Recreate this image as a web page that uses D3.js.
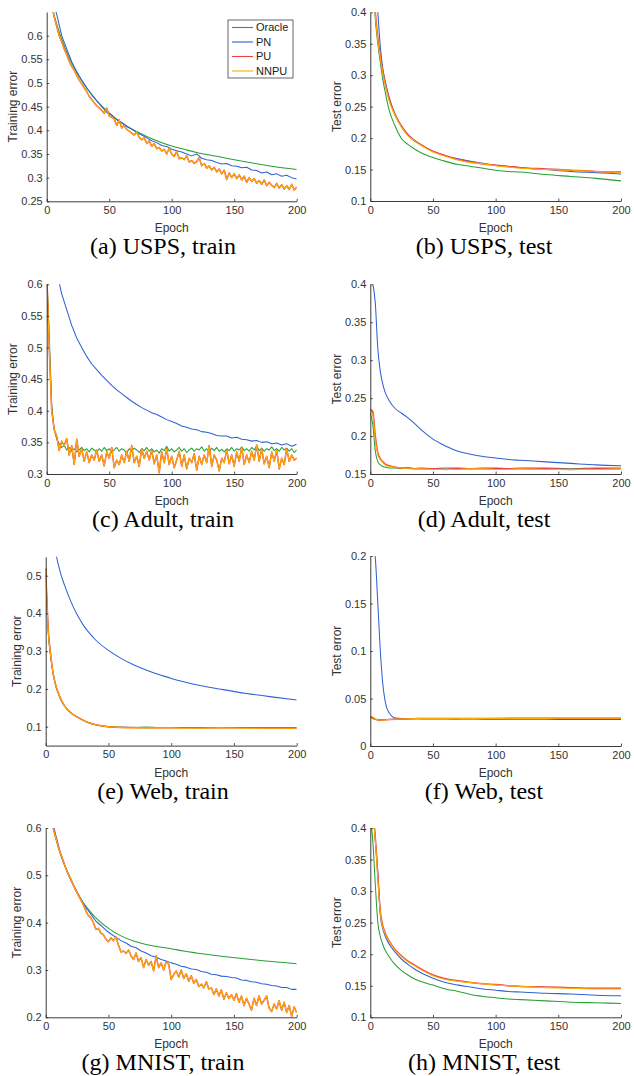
<!DOCTYPE html>
<html lang="en">
<head>
<meta charset="UTF-8">
<title>Training and test error over epochs</title>
<script src="https://d3js.org/d3.v7.min.js"></script>
<style>
  body { margin: 0; background: #fff; }
</style>
</head>
<body>
<svg id="chart"></svg>
<script>
// ---- data ----
var methods = ["Oracle", "PN", "PU", "NNPU"];
var xTicks = [0, 50, 100, 150, 200];

// sparse epoch grid used by the smooth curves
var sparseEpochs = [0, 2, 4, 6, 8, 10, 12, 15, 20, 25, 30, 35, 40, 50, 60, 70, 80, 90, 100, 110, 120, 140, 160, 180, 200];

// (a) USPS, train
var uspsTrainTicks = [0.25, 0.3, 0.35, 0.4, 0.45, 0.5, 0.55, 0.6];
var uspsTrainOracle = [null, null, 0.665, 0.642, 0.625, 0.608, 0.593, 0.572, 0.542, 0.518, 0.497, 0.479, 0.463, 0.437, 0.416, 0.4, 0.387, 0.376, 0.367, 0.36, 0.353, 0.343, 0.333, 0.324, 0.317];
// every 4 epochs from 4
var uspsTrainPN = [0.68, 0.645, 0.60, 0.572, 0.545, 0.524, 0.506, 0.49, 0.475, 0.462,
  0.45, 0.438, 0.432, 0.422, 0.416, 0.408, 0.402, 0.396, 0.39, 0.384,
  0.378, 0.374, 0.368, 0.366, 0.36, 0.357, 0.354, 0.35, 0.346, 0.35,
  0.341, 0.338, 0.336, 0.332, 0.329, 0.33, 0.325, 0.324, 0.321, 0.322,
  0.316, 0.315, 0.31, 0.312, 0.306, 0.308, 0.303, 0.305, 0.3, 0.297];
// every 2 epochs from 4
var uspsTrainNNPU = [0.665, 0.64, 0.62, 0.60, 0.587, 0.572, 0.56, 0.546, 0.535, 0.527,
  0.516, 0.506, 0.498, 0.49, 0.482, 0.472, 0.465, 0.458, 0.452, 0.447,
  0.442, 0.436, 0.447, 0.43, 0.428, 0.424, 0.41, 0.422, 0.405, 0.41,
  0.402, 0.398, 0.394, 0.39, 0.397, 0.385, 0.38, 0.384, 0.372, 0.378,
  0.366, 0.372, 0.361, 0.364, 0.356, 0.36, 0.35, 0.362, 0.35, 0.345,
  0.356, 0.34, 0.342, 0.338, 0.346, 0.333, 0.336, 0.33, 0.334, 0.342,
  0.325, 0.33, 0.32, 0.325, 0.316, 0.322, 0.312, 0.318, 0.308, 0.316,
  0.296, 0.31, 0.3, 0.308, 0.298, 0.306, 0.295, 0.303, 0.29, 0.3,
  0.292, 0.298, 0.288, 0.294, 0.286, 0.295, 0.283, 0.29, 0.284, 0.279,
  0.288, 0.278, 0.285, 0.276, 0.283, 0.275, 0.286, 0.274, 0.28];
var uspsTrainPU = uspsTrainNNPU; // the two traces coincide in the figure

// (b) USPS, test
var uspsTestTicks = [0.1, 0.15, 0.2, 0.25, 0.3, 0.35, 0.4];
var uspsTestOracle = [null, 0.46, 0.39, 0.35, 0.32, 0.293, 0.272, 0.245, 0.218, 0.199, 0.19, 0.183, 0.177, 0.169, 0.163, 0.158, 0.155, 0.152, 0.149, 0.147, 0.146, 0.142, 0.139, 0.136, 0.132];
var uspsTestPN = [null, null, 0.46, 0.4, 0.345, 0.31, 0.29, 0.265, 0.237, 0.219, 0.206, 0.197, 0.19, 0.179, 0.172, 0.167, 0.163, 0.16, 0.157, 0.155, 0.153, 0.15, 0.147, 0.145, 0.143];
var uspsTestPU = [null, 0.46, 0.4, 0.36, 0.33, 0.306, 0.286, 0.262, 0.236, 0.218, 0.205, 0.196, 0.19, 0.179, 0.172, 0.166, 0.162, 0.159, 0.157, 0.155, 0.153, 0.151, 0.149, 0.147, 0.146];
var uspsTestNNPU = [null, 0.45, 0.395, 0.355, 0.327, 0.303, 0.284, 0.26, 0.235, 0.217, 0.204, 0.196, 0.189, 0.178, 0.171, 0.165, 0.161, 0.159, 0.156, 0.154, 0.152, 0.15, 0.149, 0.147, 0.145];

// (c) Adult, train
var adultTrainTicks = [0.3, 0.35, 0.4, 0.45, 0.5, 0.55, 0.6];
// every 2 epochs from 0
var adultTrainOracle = [0.62, 0.52, 0.41, 0.37, 0.355, 0.348, 0.342, 0.345, 0.338, 0.342,
  0.336, 0.34, 0.335, 0.338, 0.342, 0.337, 0.34, 0.335, 0.341, 0.338,
  0.335, 0.34, 0.336, 0.342, 0.337, 0.34, 0.334, 0.338, 0.342, 0.336,
  0.34, 0.338, 0.333, 0.34, 0.336, 0.341, 0.338, 0.334, 0.34, 0.337,
  0.342, 0.336, 0.34, 0.335, 0.338, 0.333, 0.34, 0.337, 0.344, 0.336,
  0.34, 0.335, 0.338, 0.342, 0.336, 0.34, 0.334, 0.338, 0.341, 0.336,
  0.34, 0.338, 0.343, 0.336, 0.34, 0.335, 0.341, 0.337, 0.342, 0.336,
  0.339, 0.335, 0.34, 0.337, 0.342, 0.336, 0.34, 0.338, 0.343, 0.337,
  0.34, 0.336, 0.342, 0.338, 0.344, 0.337, 0.341, 0.336, 0.34, 0.338,
  0.343, 0.337, 0.34, 0.336, 0.342, 0.338, 0.341, 0.336, 0.34, 0.334, 0.338];
// every 4 epochs from 8
var adultTrainPN = [0.62, 0.585, 0.56, 0.535, 0.515, 0.5, 0.486, 0.474, 0.465, 0.456,
  0.448, 0.44, 0.433, 0.427, 0.421, 0.415, 0.41, 0.405, 0.401, 0.397,
  0.394, 0.39, 0.386, 0.383, 0.38, 0.376, 0.374, 0.371, 0.37, 0.367,
  0.366, 0.364, 0.361, 0.36, 0.36, 0.357, 0.358, 0.355, 0.354, 0.352,
  0.353, 0.35, 0.351, 0.348, 0.349, 0.346, 0.348, 0.344, 0.347];
// every 2 epochs from 0
var adultTrainNNPU = [0.62, 0.5, 0.4, 0.37, 0.36, 0.337, 0.352, 0.345, 0.356, 0.33,
  0.345, 0.315, 0.355, 0.328, 0.34, 0.32, 0.335, 0.318, 0.33, 0.322,
  0.338, 0.32, 0.33, 0.313, 0.335, 0.325, 0.342, 0.31, 0.322, 0.315,
  0.33, 0.318, 0.336, 0.32, 0.345, 0.318, 0.328, 0.312, 0.34, 0.325,
  0.336, 0.322, 0.338, 0.316, 0.33, 0.302, 0.335, 0.318, 0.34, 0.315,
  0.328, 0.31, 0.322, 0.336, 0.312, 0.33, 0.308, 0.325, 0.318, 0.332,
  0.306, 0.328, 0.315, 0.33, 0.318, 0.345, 0.312, 0.33, 0.322, 0.305,
  0.325, 0.318, 0.338, 0.316, 0.33, 0.312, 0.335, 0.32, 0.342, 0.315,
  0.33, 0.318, 0.336, 0.322, 0.346, 0.32, 0.34, 0.316, 0.328, 0.31,
  0.335, 0.32, 0.338, 0.308, 0.325, 0.315, 0.34, 0.32, 0.33, 0.322, 0.325];
var adultTrainPU = adultTrainNNPU;

// (d) Adult, test
var adultTestTicks = [0.15, 0.2, 0.25, 0.3, 0.35, 0.4];
var adultTestOracle = [0.23, 0.215, 0.18, 0.166, 0.162, 0.16, 0.159, 0.158, 0.158, 0.157, 0.158, 0.157, 0.158, 0.157, 0.158, 0.158, 0.157, 0.158, 0.158, 0.157, 0.158, 0.158, 0.157, 0.158, 0.158];
var adultTestPN = [null, 0.401, 0.375, 0.315, 0.285, 0.268, 0.257, 0.247, 0.236, 0.23, 0.224, 0.217, 0.209, 0.196, 0.187, 0.18, 0.176, 0.173, 0.171, 0.169, 0.168, 0.166, 0.164, 0.162, 0.161];
var adultTestPU = [0.235, 0.232, 0.2, 0.178, 0.17, 0.166, 0.163, 0.161, 0.159, 0.158, 0.158, 0.157, 0.157, 0.157, 0.156, 0.157, 0.157, 0.157, 0.157, 0.157, 0.157, 0.157, 0.156, 0.157, 0.157];
var adultTestNNPU = [0.233, 0.228, 0.195, 0.176, 0.169, 0.165, 0.162, 0.16, 0.159, 0.158, 0.157, 0.157, 0.157, 0.156, 0.156, 0.156, 0.157, 0.157, 0.156, 0.156, 0.157, 0.156, 0.156, 0.156, 0.157];

// (e) Web, train
var webTrainTicks = [0.1, 0.2, 0.3, 0.4, 0.5];
var webTrainOracle = [0.52, 0.35, 0.285, 0.238, 0.208, 0.188, 0.172, 0.155, 0.137, 0.126, 0.117, 0.11, 0.105, 0.1, 0.099, 0.098, 0.099, 0.098, 0.098, 0.098, 0.097, 0.098, 0.098, 0.098, 0.098];
var webTrainPN = [null, null, null, null, 0.56, 0.53, 0.505, 0.475, 0.432, 0.397, 0.369, 0.347, 0.329, 0.302, 0.281, 0.264, 0.25, 0.238, 0.228, 0.219, 0.211, 0.199, 0.188, 0.179, 0.171];
var webTrainPU = [0.52, 0.36, 0.29, 0.24, 0.21, 0.19, 0.173, 0.155, 0.137, 0.126, 0.117, 0.11, 0.105, 0.1, 0.098, 0.098, 0.097, 0.097, 0.097, 0.097, 0.097, 0.097, 0.097, 0.096, 0.096];
var webTrainNNPU = [0.515, 0.355, 0.288, 0.24, 0.21, 0.19, 0.173, 0.155, 0.137, 0.126, 0.117, 0.11, 0.105, 0.1, 0.098, 0.097, 0.097, 0.097, 0.097, 0.096, 0.096, 0.097, 0.096, 0.096, 0.096];

// (f) Web, test
var webTestTicks = [0, 0.05, 0.1, 0.15, 0.2];
var webTestOracle = [0.03, 0.029, 0.0282, 0.028, 0.0278, 0.0278, 0.0279, 0.028, 0.0282, 0.0284, 0.0285, 0.0286, 0.0287, 0.0288, 0.0288, 0.0288, 0.0289, 0.0289, 0.0289, 0.0289, 0.029, 0.029, 0.029, 0.029, 0.029];
var webTestPN = [null, 0.215, 0.198, 0.15, 0.1, 0.065, 0.046, 0.035, 0.0295, 0.029, 0.029, 0.0289, 0.0288, 0.0287, 0.0286, 0.0285, 0.0284, 0.0283, 0.0282, 0.0282, 0.0281, 0.0281, 0.028, 0.028, 0.028];
var webTestPU = [0.031, 0.0295, 0.028, 0.0274, 0.0272, 0.0273, 0.0275, 0.0278, 0.0282, 0.0285, 0.0287, 0.0288, 0.0289, 0.029, 0.029, 0.029, 0.029, 0.029, 0.029, 0.0291, 0.0291, 0.0291, 0.0291, 0.0291, 0.0292];
var webTestNNPU = [0.031, 0.0305, 0.0285, 0.0276, 0.0273, 0.0273, 0.0275, 0.0278, 0.0282, 0.0285, 0.0287, 0.0288, 0.0289, 0.029, 0.029, 0.029, 0.029, 0.029, 0.0291, 0.0291, 0.0291, 0.0291, 0.0292, 0.0292, 0.0292];

// (g) MNIST, train
var mnistTrainTicks = [0.2, 0.3, 0.4, 0.5, 0.6];
var mnistTrainOracle = [null, null, 0.64, 0.6, 0.58, 0.56, 0.543, 0.522, 0.492, 0.465, 0.442, 0.425, 0.41, 0.388, 0.372, 0.361, 0.354, 0.349, 0.345, 0.34, 0.336, 0.329, 0.323, 0.318, 0.313];
// every 4 epochs from 4
var mnistTrainPN = [0.63, 0.585, 0.545, 0.515, 0.49, 0.468, 0.45, 0.432, 0.418, 0.403,
  0.394, 0.384, 0.376, 0.369, 0.362, 0.357, 0.35, 0.347, 0.34, 0.336,
  0.33, 0.327, 0.322, 0.319, 0.315, 0.312, 0.308, 0.306, 0.302, 0.301,
  0.297, 0.295, 0.291, 0.29, 0.287, 0.286, 0.284, 0.283, 0.279, 0.278,
  0.275, 0.274, 0.271, 0.27, 0.267, 0.266, 0.263, 0.263, 0.259, 0.259];
// every 2 epochs from 4
var mnistTrainNNPU = [0.63, 0.6, 0.58, 0.56, 0.545, 0.53, 0.515, 0.502, 0.492, 0.48,
  0.468, 0.458, 0.448, 0.438, 0.425, 0.415, 0.41, 0.4, 0.386, 0.388,
  0.378, 0.374, 0.365, 0.36, 0.368, 0.362, 0.37, 0.352, 0.338, 0.34,
  0.335, 0.342, 0.33, 0.322, 0.336, 0.318, 0.326, 0.305, 0.322, 0.31,
  0.318, 0.298, 0.33, 0.305, 0.315, 0.3, 0.318, 0.312, 0.28, 0.29,
  0.298, 0.285, 0.3, 0.282, 0.292, 0.276, 0.288, 0.272, 0.28, 0.265,
  0.27, 0.262, 0.275, 0.26, 0.262, 0.248, 0.26, 0.245, 0.258, 0.238,
  0.252, 0.24, 0.248, 0.236, 0.25, 0.232, 0.245, 0.225, 0.24, 0.228,
  0.215, 0.24, 0.225, 0.245, 0.228, 0.236, 0.245, 0.22, 0.212, 0.228,
  0.218, 0.235, 0.215, 0.232, 0.21, 0.225, 0.202, 0.222, 0.21];
var mnistTrainPU = mnistTrainNNPU;

// (h) MNIST, test
var mnistTestTicks = [0.1, 0.15, 0.2, 0.25, 0.3, 0.35, 0.4];
var mnistTestOracle = [0.42, 0.38, 0.31, 0.25, 0.228, 0.215, 0.206, 0.196, 0.183, 0.174, 0.167, 0.161, 0.157, 0.151, 0.145, 0.141, 0.136, 0.133, 0.131, 0.129, 0.128, 0.126, 0.124, 0.123, 0.122];
var mnistTestPN = [null, 0.43, 0.38, 0.33, 0.262, 0.24, 0.228, 0.216, 0.203, 0.192, 0.184, 0.177, 0.171, 0.162, 0.155, 0.151, 0.148, 0.145, 0.143, 0.141, 0.14, 0.138, 0.137, 0.135, 0.134];
var mnistTestPU = [null, 0.43, 0.385, 0.325, 0.268, 0.245, 0.233, 0.221, 0.207, 0.197, 0.189, 0.183, 0.177, 0.167, 0.161, 0.158, 0.155, 0.153, 0.152, 0.15, 0.149, 0.148, 0.147, 0.146, 0.146];
var mnistTestNNPU = [null, 0.42, 0.38, 0.32, 0.265, 0.243, 0.232, 0.22, 0.206, 0.196, 0.188, 0.182, 0.176, 0.166, 0.16, 0.157, 0.155, 0.153, 0.151, 0.15, 0.149, 0.147, 0.146, 0.145, 0.145];

// ---- layout ----
var W = 634, H = 1076;
var colors = { Oracle: "#27a035", PN: "#2f62d4", PU: "#ee4040", NNPU: "#fcae00" };
var sans = "'Liberation Sans', Arial, Helvetica, sans-serif";
var serif = "'Liberation Serif', 'Times New Roman', serif";
var axisColor = "#262626";

function dense(values, start, step) {
  return values.map(function(v, i) { return [start + i * step, v]; });
}
function sparse(values) {
  return values.map(function(v, i) { return [sparseEpochs[i], v]; });
}

var panels = [
  { left: 46.7, right: 296.7, top: 12, bottom: 201.3, domain: [0.25, 0.65], ticks: uspsTrainTicks,
    ylabel: "Training error", labelX: 13, caption: "(a) USPS, train", capX: 163, legend: true,
    series: [["Oracle", sparse(uspsTrainOracle), true], ["PN", dense(uspsTrainPN, 4, 4), false],
             ["PU", dense(uspsTrainPU, 4, 2), false], ["NNPU", dense(uspsTrainNNPU, 4, 2), false]] },
  { left: 370.3, right: 621, top: 12.3, bottom: 201, domain: [0.1, 0.4], ticks: uspsTestTicks,
    ylabel: "Test error", labelX: 337, caption: "(b) USPS, test", capX: 484,
    series: [["Oracle", sparse(uspsTestOracle), true], ["PN", sparse(uspsTestPN), true],
             ["PU", sparse(uspsTestPU), true], ["NNPU", sparse(uspsTestNNPU), true]] },
  { left: 46.7, right: 296.7, top: 284.3, bottom: 474, domain: [0.3, 0.6], ticks: adultTrainTicks,
    ylabel: "Training error", labelX: 13, caption: "(c) Adult, train", capX: 163,
    series: [["Oracle", dense(adultTrainOracle, 0, 2), false], ["PN", dense(adultTrainPN, 8, 4), false],
             ["PU", dense(adultTrainPU, 0, 2), false], ["NNPU", dense(adultTrainNNPU, 0, 2), false]] },
  { left: 370.3, right: 621, top: 284.3, bottom: 474, domain: [0.15, 0.4], ticks: adultTestTicks,
    ylabel: "Test error", labelX: 337, caption: "(d) Adult, test", capX: 484,
    series: [["Oracle", sparse(adultTestOracle), true], ["PN", sparse(adultTestPN), true],
             ["PU", sparse(adultTestPU), true], ["NNPU", sparse(adultTestNNPU), true]] },
  { left: 45.7, right: 296.7, top: 556.8, bottom: 745.6, domain: [0.05, 0.55], ticks: webTrainTicks,
    ylabel: "Training error", labelX: 17, caption: "(e) Web, train", capX: 163,
    series: [["Oracle", sparse(webTrainOracle), true], ["PN", sparse(webTrainPN), true],
             ["PU", sparse(webTrainPU), true], ["NNPU", sparse(webTrainNNPU), true]] },
  { left: 370.3, right: 621, top: 556, bottom: 746, domain: [0, 0.2], ticks: webTestTicks,
    ylabel: "Test error", labelX: 337, caption: "(f) Web, test", capX: 484,
    series: [["Oracle", sparse(webTestOracle), true], ["PN", sparse(webTestPN), true],
             ["PU", sparse(webTestPU), true], ["NNPU", sparse(webTestNNPU), true]] },
  { left: 45.7, right: 296.7, top: 828, bottom: 1017.3, domain: [0.2, 0.6], ticks: mnistTrainTicks,
    ylabel: "Training error", labelX: 17, caption: "(g) MNIST, train", capX: 163,
    series: [["Oracle", sparse(mnistTrainOracle), true], ["PN", dense(mnistTrainPN, 4, 4), false],
             ["PU", dense(mnistTrainPU, 4, 2), false], ["NNPU", dense(mnistTrainNNPU, 4, 2), false]] },
  { left: 370.3, right: 621, top: 828, bottom: 1017.3, domain: [0.1, 0.4], ticks: mnistTestTicks,
    ylabel: "Test error", labelX: 337, caption: "(h) MNIST, test", capX: 484,
    series: [["Oracle", sparse(mnistTestOracle), true], ["PN", sparse(mnistTestPN), true],
             ["PU", sparse(mnistTestPU), true], ["NNPU", sparse(mnistTestNNPU), true]] }
];

var svg = d3.select("#chart").attr("width", W).attr("height", H);
svg.append("rect").attr("width", W).attr("height", H).attr("fill", "#fff");

panels.forEach(function(p, k) {
  var g = svg.append("g");
  var x = d3.scaleLinear().domain([0, 200]).range([p.left, p.right]);
  var y = d3.scaleLinear().domain(p.domain).range([p.bottom, p.top]);

  svg.append("clipPath").attr("id", "clip" + k)
     .append("rect")
     .attr("x", p.left).attr("y", p.top)
     .attr("width", p.right - p.left).attr("height", p.bottom - p.top);

  var lines = g.append("g").attr("clip-path", "url(#clip" + k + ")");
  p.series.forEach(function(s) {
    var line = d3.line()
      .defined(function(d) { return d[1] != null; })
      .x(function(d) { return x(d[0]); })
      .y(function(d) { return y(d[1]); })
      .curve(s[2] ? d3.curveMonotoneX : d3.curveLinear);
    lines.append("path")
      .datum(s[1])
      .attr("fill", "none")
      .attr("stroke", colors[s[0]])
      .attr("stroke-width", s[0] === "PU" ? 1.5 : 1.05)
      .attr("stroke-linejoin", "round")
      .attr("d", line);
  });

  var xAxis = g.append("g")
    .attr("transform", "translate(0," + p.bottom + ")")
    .call(d3.axisBottom(x).tickValues(xTicks).tickSizeInner(-2.5).tickSizeOuter(0).tickPadding(5)
          .tickFormat(d3.format("d")));
  var yAxis = g.append("g")
    .attr("transform", "translate(" + p.left + ",0)")
    .call(d3.axisLeft(y).tickValues(p.ticks).tickSizeInner(-2.5).tickSizeOuter(0).tickPadding(4)
          .tickFormat(d3.format("~g")));
  [xAxis, yAxis].forEach(function(a) {
    a.attr("font-family", sans).attr("font-size", 11);
    a.select(".domain").attr("stroke", axisColor).attr("stroke-width", 0.9);
    a.selectAll(".tick line").attr("stroke", axisColor).attr("stroke-width", 0.8);
    a.selectAll(".tick text").attr("fill", "#333");
  });

  g.append("text")
    .attr("x", (p.left + p.right) / 2)
    .attr("y", p.bottom + 31)
    .attr("text-anchor", "middle")
    .attr("font-family", sans).attr("font-size", 12).attr("fill", "#333")
    .text("Epoch");

  g.append("text")
    .attr("transform", "translate(" + p.labelX + "," + ((p.top + p.bottom) / 2) + ") rotate(-90)")
    .attr("text-anchor", "middle")
    .attr("dy", "0.35em")
    .attr("font-family", sans).attr("font-size", 12).attr("fill", "#333")
    .text(p.ylabel);

  g.append("text")
    .attr("x", p.capX)
    .attr("y", p.bottom + 53)
    .attr("text-anchor", "middle")
    .attr("font-family", serif).attr("font-size", 24).attr("fill", "#000")
    .text(p.caption);

  if (p.legend) {
    var lg = g.append("g").attr("transform", "translate(228,20)");
    lg.append("rect").attr("width", 65).attr("height", 58)
      .attr("fill", "#fff").attr("stroke", axisColor).attr("stroke-width", 0.7);
    methods.forEach(function(m, i) {
      var yy = 7.5 + i * 14.5;
      lg.append("line").attr("x1", 4).attr("x2", 25).attr("y1", yy).attr("y2", yy)
        .attr("stroke", colors[m]).attr("stroke-width", 1.1);
      lg.append("text").attr("x", 28).attr("y", yy).attr("dy", "0.35em")
        .attr("font-family", sans).attr("font-size", 11).attr("fill", "#222")
        .text(m);
    });
  }
});
</script>
</body>
</html>
